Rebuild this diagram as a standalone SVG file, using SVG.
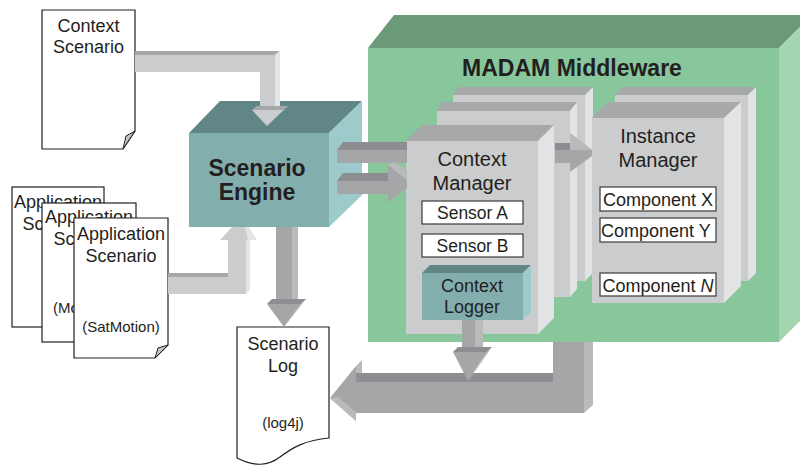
<svg xmlns="http://www.w3.org/2000/svg" width="800" height="468" viewBox="0 0 800 468">
  <defs>
    <style>
      text { font-family: "Liberation Sans", Arial, Helvetica, sans-serif; fill: #231f20; }
      .t18 { font-size: 18px; text-anchor: middle; }
      .t20 { font-size: 20px; text-anchor: middle; }
      .t15 { font-size: 15px; text-anchor: middle; }
      .start { text-anchor: start; }
      .bold { font-size: 23px; font-weight: bold; text-anchor: middle; }
      .doc { fill: #ffffff; stroke: #231f20; stroke-width: 1.2; }
      .fold { fill: #c4c5c7; stroke: #231f20; stroke-width: 1; }
      .slot { fill: #ffffff; stroke: #3a3a3a; stroke-width: 1.2; }
      .g-front { fill: #cbcccd; }
      .g-top { fill: #a7a8aa; }
      .g-side { fill: #e2e3e4; }
      .teal-front { fill: #83aeae; }
      .teal-top { fill: #618686; }
      .teal-side { fill: #9dcacb; }
      .l-body { fill: #cbcccd; }
      .l-top { fill: #a7a8aa; }
      .l-side { fill: #e4e5e6; }
      .d-body { fill: #a5a6a8; }
      .d-top { fill: #8d8e91; }
      .d-side { fill: #b9babc; }
    </style>
  </defs>

  <!-- MADAM middleware container -->
  <g id="middleware">
    <polygon points="368,48 394,15 812,15 779,48" fill="#6b9a78"/>
    <polygon points="779,48 812,15 812,309 779,342" fill="#a3d5b1"/>
    <rect x="368" y="48" width="411" height="294" fill="#88c69c"/>
    <text class="bold" x="572" y="76">MADAM Middleware</text>
  </g>

  <!-- Scenario engine -->
  <g id="scenario-engine">
    <polygon class="teal-top" points="189,133 220,101 362,101 329,133"/>
    <polygon class="teal-side" points="329,133 362,101 362,195 329,227"/>
    <rect class="teal-front" x="189" y="133" width="140" height="94"/>
    <text class="bold" x="257" y="176">Scenario</text>
    <text class="bold" x="257" y="200">Engine</text>
  </g>

  <!-- Context manager (stacked instances) -->
  <g id="context-manager">
    <polygon class="g-top" points="453,95 459,87 593,87 585,95"/>
    <polygon class="g-side" points="585,95 593,87 593,273 585,281"/>
    <rect class="g-front" x="453" y="95" width="132" height="186"/>

    <polygon class="g-top" points="437,111 442,102 577,102 570,111"/>
    <polygon class="g-side" points="570,111 577,102 577,289 570,297"/>
    <rect class="g-front" x="437" y="111" width="133" height="186"/>

    <polygon class="g-top" points="406,141 422,125 554,125 538,141"/>
    <polygon class="g-side" points="538,141 554,125 554,318 538,334"/>
    <rect class="g-front" x="406" y="141" width="132" height="193"/>
    <text class="t20" x="472" y="166">Context</text>
    <text class="t20" x="472" y="190">Manager</text>

    <g id="sensor-a">
      <rect class="slot" x="422" y="201" width="101" height="23"/>
      <text class="t18" x="472.5" y="219" style="font-size:17.5px">Sensor A</text>
    </g>
    <g id="sensor-b">
      <rect class="slot" x="422" y="234" width="101" height="23"/>
      <text class="t18" x="472.5" y="252" style="font-size:17.5px">Sensor B</text>
    </g>
    <g id="context-logger">
      <polygon class="teal-top" points="422,273 430,265 531,265 523,273"/>
      <polygon class="teal-side" points="523,273 531,265 531,312 523,320"/>
      <rect class="teal-front" x="422" y="273" width="101" height="47"/>
      <text class="t18" x="472" y="292">Context</text>
      <text class="t18" x="472" y="313">Logger</text>
    </g>
  </g>

  <!-- Instance manager (stacked instances) -->
  <g id="instance-manager">
    <polygon class="g-top" points="615,95 622,87 756,87 748,95"/>
    <polygon class="g-side" points="748,95 756,87 756,273 748,281"/>
    <rect class="g-front" x="615" y="95" width="133" height="186"/>

    <polygon class="g-top" points="592,118 608,102 741,102 724,118"/>
    <polygon class="g-side" points="724,118 741,102 741,286 724,303"/>
    <rect class="g-front" x="592" y="118" width="132" height="185"/>
    <text class="t20" x="658" y="143">Instance</text>
    <text class="t20" x="658" y="167">Manager</text>

    <g id="component-x">
      <rect class="slot" x="600" y="187" width="116" height="24"/>
      <text class="t18" x="658" y="206">Component X</text>
    </g>
    <g id="component-y">
      <rect class="slot" x="600" y="218" width="116" height="24"/>
      <text class="t18 start" x="601" y="237">Component Y</text>
    </g>
    <g id="component-n">
      <rect class="slot" x="600" y="273" width="116" height="23"/>
      <text class="t18" x="658" y="292">Component <tspan font-style="italic">N</tspan></text>
    </g>
  </g>

  <!-- Input documents -->
  <g id="context-scenario">
    <path class="doc" d="M42,10 H135 V131 L123,149 H42 Z"/>
    <path class="fold" d="M123,149 L126,136 L135,131 Z"/>
    <text class="t18" x="88.5" y="32">Context</text>
    <text class="t18" x="88.5" y="53">Scenario</text>
  </g>

  <g id="application-scenarios">
    <g id="app-scenario-1">
      <rect class="doc" x="12" y="187" width="92" height="140"/>
      <text class="t18" x="58" y="208">Application</text>
      <text class="t18 start" x="22.5" y="230">Sc</text>
    </g>
    <g id="app-scenario-2">
      <rect class="doc" x="42" y="203" width="94" height="139"/>
      <text class="t18" x="89" y="223">Application</text>
      <text class="t18 start" x="53.5" y="245">Sc</text>
      <text class="t15 start" x="53" y="313">(Mo</text>
    </g>
    <g id="app-scenario-3">
      <path class="doc" d="M74,218 H168 V345 L155,358 H74 Z"/>
      <path class="fold" d="M155,358 L158,348 L168,345 Z"/>
      <text class="t18" x="121" y="240">Application</text>
      <text class="t18" x="121" y="262">Scenario</text>
      <text class="t15" x="121" y="332">(SatMotion)</text>
    </g>
  </g>

  <!-- Output log document -->
  <g id="scenario-log">
    <path class="doc" d="M237,327 H329 V438 C305,440 292,448 280,457 C268,466 255,467 237,458 Z"/>
    <text class="t18" x="283" y="350">Scenario</text>
    <text class="t18" x="283" y="372">Log</text>
    <text class="t15" x="283" y="428">(log4j)</text>
  </g>

  <!-- Connectors: 3D block arrows -->
  <g id="connectors">
    <!-- context scenario -> engine -->
    <g id="arrow-context-engine">
      <polygon class="l-top" points="135,51 280,51 275,55 135,55"/>
      <polygon class="l-body" points="135,55 275,55 275,106 260,106 260,72 135,72"/>
      <polygon class="l-side" points="275,55 280,51 280,106 275,106"/>
      <polygon class="l-top" points="252,110 257,106 288,106 283,110"/>
      <polygon class="l-body" points="252,110 283,110 267,126"/>
      <polygon class="l-side" points="283,110 288,106 268,125"/>
    </g>
    <!-- application scenario -> engine -->
    <g id="arrow-app-engine">
      <polygon class="l-top" points="168,273 228,273 228,277 168,277"/>
      <polygon class="l-body" points="168,277 228,277 228,240 246,240 246,294 168,294"/>
      <polygon class="l-side" points="246,240 250,240 250,290 246,294"/>
      <polygon class="l-body" points="220,240 252,240 245,227 232,227"/>
      <polygon class="l-side" points="248,240 257,240 249,227 245,227"/>
    </g>
    <!-- engine -> scenario log -->
    <g id="arrow-engine-log">
      <rect class="d-body" x="276" y="227" width="16" height="75"/>
      <rect class="d-side" x="292" y="227" width="6" height="73"/>
      <polygon class="d-top" points="267,304 272,299 306,299 301,304"/>
      <polygon class="d-body" points="267,304 301,304 284,327"/>
      <polygon class="d-side" points="301,304 306,299 285,326"/>
    </g>
    <!-- engine -> context manager -->
    <g id="arrow-engine-cm-1">
      <polygon class="d-top" points="337,150 343,142 407,142 407,150"/>
      <rect class="d-body" x="337" y="150" width="70" height="13"/>
    </g>
    <g id="arrow-engine-cm-2">
      <polygon class="d-top" points="337,181 343,173 388,173 388,181"/>
      <rect class="d-body" x="337" y="181" width="51" height="13"/>
      <polygon class="d-body" points="388,165 407,180 407,188 388,203"/>
      <polygon class="d-side" points="388,165 394,162 407,170 407,180"/>
    </g>
    <!-- context manager -> instance manager -->
    <g id="arrow-cm-im">
      <polygon class="d-top" points="555,143 570,143 570,150 555,150"/>
      <rect class="d-body" x="555" y="150" width="15" height="13"/>
      <polygon class="d-body" points="570,133 592,150 592,156 570,172"/>
      <polygon class="d-side" points="570,133 592,150 570,150"/>
    </g>
    <!-- middleware -> scenario log -->
    <g id="arrow-middleware-log">
      <polygon class="d-top" points="356,373 553,373 553,382 356,382"/>
      <polygon class="d-body" points="356,382 553,382 553,342 584,342 584,413 356,413"/>
      <polygon class="d-side" points="584,342 593,342 593,405 584,413"/>
      <polygon class="d-body" points="330,398 356,366 356,421"/>
      <polygon class="d-side" points="356,366 362,360 362,373 356,373"/>
      <polygon class="d-side" points="330,398 356,421 356,412 338,397"/>
    </g>
    <!-- context logger -> log path -->
    <g id="arrow-logger-log">
      <rect class="d-body" x="462" y="320" width="13" height="28"/>
      <rect class="d-side" x="475" y="320" width="8" height="28"/>
      <polygon class="d-top" points="453,352 458,347 492,347 487,352"/>
      <polygon class="d-body" points="453,352 487,352 468,381"/>
      <polygon class="d-side" points="487,352 492,347 469,380"/>
    </g>
  </g>
</svg>
